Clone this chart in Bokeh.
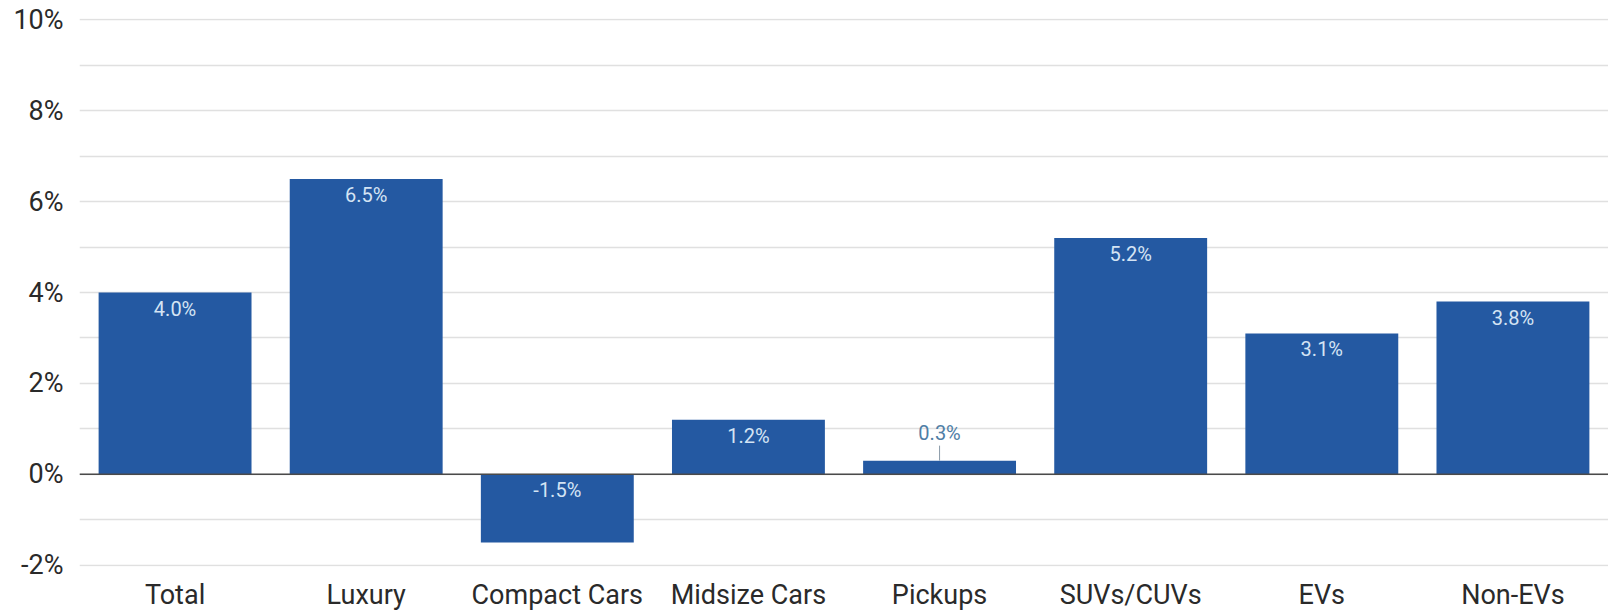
from bokeh.plotting import figure
from bokeh.models import ColumnDataSource, FactorRange, Range1d, FixedTicker, Span, CustomJSTickFormatter
from bokeh.core.properties import value
from bokeh.embed import file_html
from bokeh.resources import INLINE

categories = ["Total", "Luxury", "Compact Cars", "Midsize Cars", "Pickups", "SUVs/CUVs", "EVs", "Non-EVs"]
values = [4.0, 6.5, -1.5, 1.2, 0.3, 5.2, 3.1, 3.8]
y_ticks = [-2, 0, 2, 4, 6, 8, 10]
y_minor = [-1, 1, 3, 5, 7, 9]

BAR = "#2459a2"
FONT = "Roboto"

p = figure(width=1608, height=613, x_range=FactorRange(*categories, range_padding=0),
           y_range=Range1d(-2.03, 10.03), output_backend="svg", toolbar_location=None,
           min_border_left=79, min_border_right=0, min_border_top=18, min_border_bottom=36)
p.outline_line_color = None
p.background_fill_color = "white"
p.border_fill_color = "white"

src = ColumnDataSource(dict(x=categories, top=values))
p.vbar(x="x", top="top", width=0.8, source=src, fill_color=BAR, line_color=None)

# value labels
inside = [i for i, v in enumerate(values) if abs(v) >= 0.5]
outside = [i for i, v in enumerate(values) if abs(v) < 0.5]
in_src = ColumnDataSource(dict(x=[categories[i] for i in inside],
                               y=[max(values[i], 0) for i in inside],
                               t=["%.1f%%" % values[i] for i in inside]))
p.text(x="x", y="y", text="t", source=in_src, text_align="center", text_baseline="top",
       y_offset=4, text_color="#d4e4f4", text_font=value(FONT), text_font_size="20px")

out_src = ColumnDataSource(dict(x=[categories[i] for i in outside],
                                y=[values[i] for i in outside],
                                y1=[values[i] + 0.33 for i in outside],
                                t=["%.1f%%" % values[i] for i in outside]))
p.segment(x0="x", y0="y", x1="x", y1="y1", source=out_src, line_color="#8a9aa8", line_width=1)
p.text(x="x", y="y1", text="t", source=out_src, text_align="center", text_baseline="bottom",
       y_offset=-1, text_color="#4f7ea6", text_font=value(FONT), text_font_size="20px")

zero = Span(location=0, dimension="width", line_color="#4a4a4a", line_width=1.5)
p.add_layout(zero)

p.xgrid.grid_line_color = None
p.ygrid.grid_line_color = "#e0e0e0"
p.ygrid.grid_line_width = 1.5
p.ygrid.minor_grid_line_color = "#e0e0e0"
p.ygrid.minor_grid_line_width = 1.5

p.yaxis.ticker = FixedTicker(ticks=y_ticks, minor_ticks=y_minor)
p.yaxis.formatter = CustomJSTickFormatter(code="return tick + '%';")
p.yaxis.axis_line_color = None
p.yaxis.major_tick_line_color = None
p.yaxis.minor_tick_line_color = None
p.yaxis.major_label_text_font = FONT
p.yaxis.major_label_text_font_size = "27px"
p.yaxis.major_label_text_color = "#2a2a2a"
p.yaxis.major_label_standoff = 10

p.xaxis.axis_line_color = None
p.xaxis.major_tick_line_color = None
p.xaxis.major_label_text_font = FONT
p.xaxis.major_label_text_font_size = "27px"
p.xaxis.major_label_text_color = "#2a2a2a"
p.xaxis.major_label_standoff = 6

open("out.html", "w").write(file_html(p, INLINE))
